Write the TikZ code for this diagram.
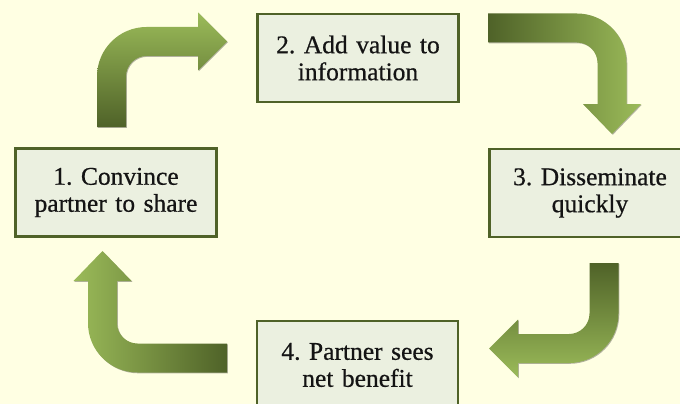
\documentclass[tikz,border=0pt]{standalone}
\usepackage{fontspec}
\setmainfont{Liberation Serif}[FakeBold=1]
\newfontfamily\boxfont{Liberation Serif}[FakeBold=0.6]
\usetikzlibrary{shadows}
\definecolor{bgcol}{HTML}{FFFFE3}
\definecolor{boxfill}{HTML}{EBF0E0}
\definecolor{boxline}{HTML}{4F6228}
\definecolor{arrdark}{HTML}{4F6228}
\definecolor{arrlight}{HTML}{9BBB59}
\frenchspacing
\begin{document}
\begin{tikzpicture}[x=1pt,y=-1pt,
  stepbox/.style={draw=boxline, fill=boxfill, line width=2.6pt,
    minimum width=201pt, minimum height=88pt, inner sep=0pt,
    text width=200pt, align=center, text=black!92,
    font=\boxfont\fontsize{25.5}{27}\selectfont},
  bentarrow/.style={drop shadow={shadow xshift=0.8pt, shadow yshift=-0.8pt, opacity=0.3, fill=black}}
]
\useasboundingbox (0,0) rectangle (680,404);
\fill[bgcol] (0,0) rectangle (680,404);

\node[stepbox] (s1) at (116,192.5) {1. Convince\\partner to share};
\node[stepbox] (s2) at (358,58) {2. Add value to\\information};
\node[stepbox] (s3) at (590,193) {3. Disseminate\\quickly};
\node[stepbox] (s4) at (357.5,365) {4. Partner sees\\net benefit};

% arrow A: 1 -> 2 (up then right)
\path[bentarrow, top color=arrlight, bottom color=arrdark]
  (97,127) -- (97,76.5) .. controls (97,49.2) and (119.2,27) .. (146.5,27)
  -- (198,27) -- (198,12.5) -- (227,41.5) -- (198,70.5) -- (198,56)
  -- (146.5,56) .. controls (135.2,56) and (126,65.2) .. (126,76.5)
  -- (126,127) -- cycle;

% arrow B: 2 -> 3 (right then down)
\path[bentarrow, left color=arrdark, right color=arrlight]
  (488,13.5) -- (577,13.5) .. controls (604.3,13.5) and (626.5,35.7) .. (626.5,63)
  -- (626.5,104) -- (641,104) -- (612,134) -- (583,104) -- (597.5,104)
  -- (597.5,63) .. controls (597.5,51.7) and (588.3,42.5) .. (577,42.5)
  -- (488,42.5) -- cycle;

% arrow C: 3 -> 4 (down then left)
\path[bentarrow, top color=arrdark, bottom color=arrlight]
  (589.5,263) -- (618.5,263) -- (618.5,313.5) .. controls (618.5,340.8) and (596.3,363) .. (569,363)
  -- (518,363) -- (518,377.5) -- (489,348.5) -- (518,319.5) -- (518,334)
  -- (569,334) .. controls (580.3,334) and (589.5,324.8) .. (589.5,313.5)
  -- cycle;

% arrow D: 4 -> 1 (left then up)
\path[bentarrow, left color=arrlight, right color=arrdark]
  (227,372.5) -- (137.5,372.5) .. controls (110.2,372.5) and (88,350.3) .. (88,323)
  -- (88,281) -- (73.5,281) -- (102.5,251) -- (131.5,281) -- (117,281)
  -- (117,323) .. controls (117,334.3) and (126.2,343.5) .. (137.5,343.5)
  -- (227,343.5) -- cycle;
\end{tikzpicture}
\end{document}
